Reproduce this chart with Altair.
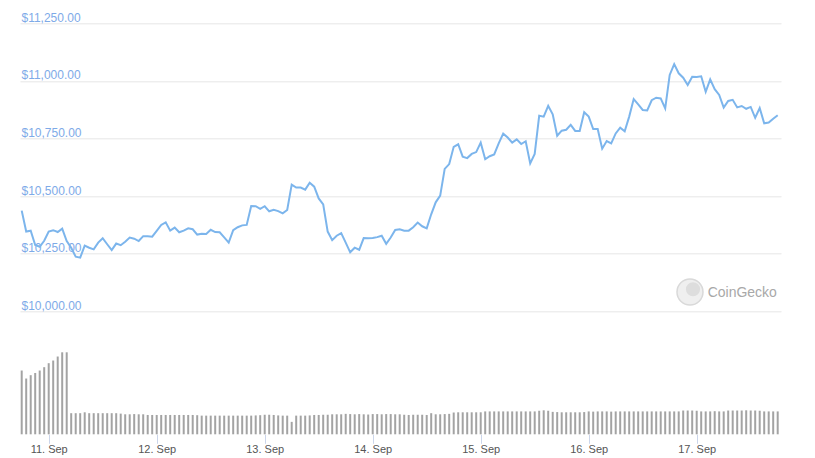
import altair as alt
import pandas as pd

# Hourly BTC price (USD), 10 Sep 18:00 UTC -> 17 Sep 18:00 UTC
price = [
    10437, 10346, 10350, 10288, 10280, 10306, 10346, 10352, 10344, 10359,
    10305, 10276, 10237, 10233, 10285, 10276, 10269, 10298, 10317, 10291,
    10266, 10294, 10287, 10302, 10320, 10315, 10305, 10326, 10326, 10324,
    10349, 10375, 10386, 10350, 10363, 10343, 10350, 10360, 10356, 10333,
    10337, 10336, 10354, 10344, 10343, 10321, 10298, 10352, 10365, 10373,
    10375, 10457, 10456, 10445, 10456, 10434, 10441, 10435, 10425, 10440,
    10550, 10537, 10537, 10528, 10558, 10541, 10490, 10464, 10346, 10309,
    10328, 10339, 10298, 10256, 10276, 10267, 10318, 10317, 10318, 10322,
    10328, 10293, 10320, 10353, 10356, 10350, 10350, 10365, 10385, 10369,
    10360, 10421, 10473, 10502, 10618, 10639, 10714, 10725, 10671, 10665,
    10683, 10691, 10732, 10660, 10673, 10681, 10729, 10771, 10754, 10732,
    10746, 10726, 10738, 10642, 10683, 10849, 10845, 10892, 10855, 10762,
    10784, 10788, 10809, 10783, 10783, 10864, 10845, 10791, 10791, 10706,
    10739, 10729, 10772, 10797, 10781, 10845, 10921, 10898, 10874, 10872,
    10916, 10927, 10924, 10881, 11026, 11073, 11033, 11014, 10982, 11018,
    11017, 11020, 10953, 11007, 10964, 10939, 10884, 10913, 10918, 10885,
    10891, 10879, 10887, 10840, 10882, 10816, 10819, 10836, 10851,
]

# Hourly volume (billion USD)
volume = [
    28.7, 25.1, 26.6, 27.6, 28.7, 30.2, 32.0, 33.2, 35.0, 36.9, 36.9,
    9.5, 9.5, 9.5, 9.9, 9.5, 9.5, 9.5, 9.5, 9.5, 9.5, 9.5, 9.3,
    9.0, 9.0, 9.1, 9.0, 9.0,
    8.7, 8.7, 8.7, 8.7, 8.7, 8.7, 8.7, 8.7, 8.7, 8.7, 8.7, 8.6,
    8.4, 8.4, 8.4, 8.4, 8.4, 8.4, 8.4, 8.4, 8.4, 8.4, 8.4, 8.4, 8.5,
    8.6,
    8.8, 8.8, 8.7,
    8.5,
    8.4, 8.4,
    5.6,
    8.4, 8.4, 8.4, 8.5,
    8.7, 8.7, 8.8, 8.8,
    9.0, 9.0, 9.0, 9.2, 9.1, 9.0, 9.1, 9.0, 8.9, 9.1, 9.1, 9.0, 9.1, 9.1, 9.0, 9.0,
    8.8, 8.7, 8.8, 8.8, 8.8, 8.7,
    9.5,
    9.0, 9.0, 9.1, 9.2,
    9.8, 9.9, 9.9, 9.9, 9.9, 9.9, 9.9,
    10.3, 10.3, 10.3, 10.3, 10.3, 10.3, 10.3, 10.3, 10.3, 10.3, 10.3, 10.3,
    10.6, 10.8, 10.6,
    10.1, 10.0, 9.9, 9.9, 9.9, 9.9, 9.9, 10.0,
    10.3, 10.2, 10.3, 10.3, 10.3, 10.2, 10.3,
    10.3, 10.3, 10.3, 10.3, 10.3, 10.3, 10.3, 10.3, 10.3, 10.3, 10.3, 10.3, 10.3, 10.3,
    10.7, 10.7, 10.7, 10.6,
    10.3, 10.3, 10.3, 10.4, 10.3, 10.3,
    10.7, 10.7, 10.7, 10.7, 10.8, 10.7, 10.7, 10.6,
    10.3, 10.3, 10.3, 10.3,
]

price_ticks = [10000, 10250, 10500, 10750, 11000, 11250]
tick_days = [11, 12, 13, 14, 15, 16, 17]

times = pd.date_range("2020-09-10 18:00", periods=len(price), freq="h")
df = pd.DataFrame({
    "time": [t.strftime("%Y-%m-%dT%H:%M:%SZ") for t in times],
    "price": price,
    "volume": volume,
})

X = alt.X(
    "time:T",
    scale=alt.Scale(
        type="utc",
        padding=0,
        domain=[
            alt.DateTime(year=2020, month=9, date=10, hours=17, minutes=37, seconds=20, utc=True),
            alt.DateTime(year=2020, month=9, date=17, hours=18, minutes=44, utc=True),
        ],
    ),
    axis=alt.Axis(
        values=[alt.DateTime(year=2020, month=9, date=d, utc=True) for d in tick_days],
        labelExpr="utcFormat(datum.value, '%-d. %b')",
        grid=False, domain=False, ticks=True, tickColor="#ccd6eb", tickSize=9,
        labelFontSize=11, labelColor="#555555", labelPadding=0, title=None,
        labelFont="Liberation Sans",
    ),
)

bars = alt.Chart(df).mark_bar(color="#a3a3a3", size=2).encode(
    x=X,
    y=alt.Y("volume:Q", scale=alt.Scale(domain=[0, 184.95], nice=False), axis=None),
)

line = alt.Chart(df).mark_line(color="#7cb5ec", strokeWidth=2).encode(
    x=X,
    y=alt.Y(
        "price:Q",
        scale=alt.Scale(domain=[9466.15, 11250], nice=False, zero=False),
        axis=alt.Axis(
            values=price_ticks, format="$,.2f", grid=True, gridColor="#e6e6e6",
            gridWidth=1, ticks=False, tickSize=0, domain=False,
            labelAlign="left", labelBaseline="alphabetic", labelPadding=-1,
            labelOffset=-2, labelColor="#7eaae8", labelFontSize=12,
            labelFont="Liberation Sans", title=None,
        ),
    ),
)

wm = pd.DataFrame({"label": ["CoinGecko"]})
logo = alt.Chart(wm).mark_point(
    shape="circle", filled=True, fill="#efefef", stroke="#d9d9d9", strokeWidth=1.5, size=676, opacity=1
).encode(x=alt.value(670), y=alt.value(268.7))
logo_inner = alt.Chart(wm).mark_point(
    shape="circle", filled=True, fill="#dddddd", size=200, opacity=1
).encode(x=alt.value(673), y=alt.value(266))
logo_text = alt.Chart(wm).mark_text(
    align="left", baseline="alphabetic", fontSize=14, color="#a8a8a8", font="Liberation Sans"
).encode(x=alt.value(687.7), y=alt.value(273.4), text="label:N")

chart = (
    alt.layer(bars, line, logo, logo_inner, logo_text)
    .resolve_scale(y="independent")
    .properties(
        width=761, height=411,
        autosize=alt.AutoSizeParams(type="none"),
        padding={"left": 12, "top": 15.3, "right": 22, "bottom": 24},
    )
    .configure(font="Liberation Sans")
    .configure_view(strokeWidth=0, stroke="transparent")
)

chart.save("out.html", embed_options={"renderer": "svg", "actions": False})
